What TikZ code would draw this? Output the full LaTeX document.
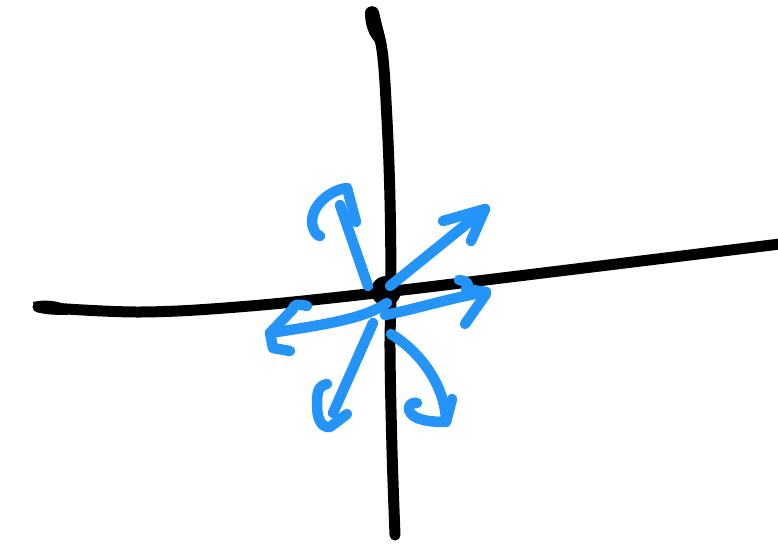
\documentclass[tikz,border=0pt]{standalone}
\definecolor{sketchblue}{RGB}{36,148,248}
\begin{document}
\begin{tikzpicture}[x=1pt,y=-1pt,
  axis/.style={line width=11pt,black,line cap=round,line join=round},
  arr/.style={line width=10.5pt,sketchblue,line cap=round,line join=round}]
\useasboundingbox (0,0) rectangle (778,546);
% axes
\draw[axis] plot[smooth,tension=0.6] coordinates {(38,307) (140,312) (250,306) (385,292) (510,277) (690,255) (780,244)};
\draw[axis] plot[smooth,tension=0.6] coordinates {(372,14) (382,50) (387,120) (390,200) (391,292) (390,350) (392,450) (395,535)};
\fill[black] (33,302) .. controls (45,299) and (60,301) .. (68,306) -- (68,315) .. controls (50,315) and (38,314) .. (35,310) -- cycle;
\fill[black] (365,12) .. controls (367,4) and (377,4) .. (379,12) -- (386,42) -- (380,46) .. controls (372,41) and (365,30) .. cycle;
\coordinate (o) at (386,291);
\fill[black] (o) circle (15);
% arrow 1 (NNW)
\draw[arr] (368,286) -- (340,205);
\draw[arr] (347,188) .. controls (330,190) and (312,205) .. (312,222) .. controls (313,232) and (318,236) .. (320,236);
\draw[arr] (347,188) -- (356,222);
% arrow 2 (NE)
\draw[arr] (390,286) -- (485,209);
\draw[arr] (485,209) -- (443,221);
\draw[arr] (485,209) -- (471,241);
% arrow 3 (E)
\draw[arr] (385,315) .. controls (420,308) and (450,298) .. (486,292);
\draw[arr] (459,280) .. controls (468,281) and (470,285) .. (466,289) -- (486,292);
\draw[arr] (486,294) -- (465,324);
% arrow 4 (W)
\draw[arr] (387,303) .. controls (365,318) and (330,324) .. (270,333);
\draw[arr] (307,306) .. controls (296,303) and (293,306) .. (293,309) -- (270,333) -- (273,348) -- (290,351);
% arrow 5 (SSW)
\draw[arr] (373,323) -- (333,413);
\draw[arr] (327,384) .. controls (318,386) and (317,392) .. (317,405) .. controls (317,420) and (322,428) .. (330,427) -- (347,414);
% arrow 6 (SSE)
\draw[arr] (391,334) .. controls (425,355) and (445,390) .. (446,420);
\draw[arr] (452,399) -- (446,422) .. controls (430,422) and (412,420) .. (409,410) .. controls (408,405) and (412,402) .. (417,403);
\end{tikzpicture}
\end{document}
